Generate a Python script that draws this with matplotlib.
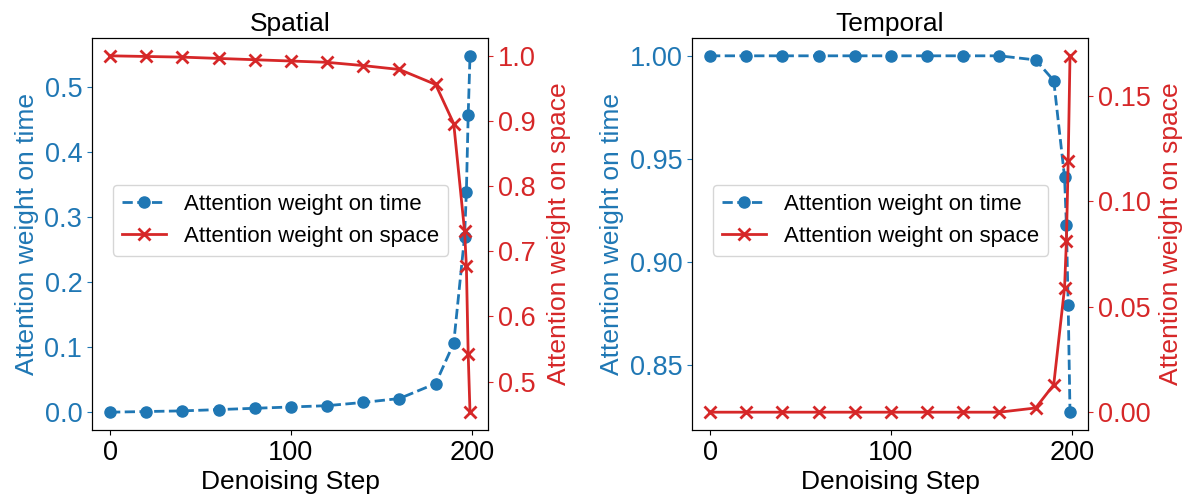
import matplotlib
matplotlib.use("Agg")
import matplotlib.pyplot as plt

plt.rcParams['font.family'] = ['Liberation Sans', 'DejaVu Sans']

# Denoising steps at which the attention weights were recorded
steps = [0, 20, 40, 60, 80, 100, 120, 140, 160, 180, 190, 196, 197, 198, 199]

# Spatial block
spatial_time = [0.000, 0.001, 0.002, 0.004, 0.006, 0.008, 0.010, 0.015, 0.021,
                0.044, 0.106, 0.270, 0.339, 0.457, 0.548]
spatial_space = [1.000, 0.999, 0.998, 0.996, 0.994, 0.992, 0.990, 0.985, 0.979,
                 0.956, 0.896, 0.731, 0.677, 0.542, 0.453]

# Temporal block
temporal_time = [1.000, 1.000, 1.000, 1.000, 1.000, 1.000, 1.000, 1.000, 1.000,
                 0.998, 0.988, 0.941, 0.918, 0.879, 0.827]
temporal_space = [0.000, 0.000, 0.000, 0.000, 0.000, 0.000, 0.000, 0.000, 0.000,
                  0.002, 0.013, 0.059, 0.081, 0.119, 0.169]

titles = ["Spatial", "Temporal"]
x_ticks = [0, 100, 200]
right_ticks = [[0.5, 0.6, 0.7, 0.8, 0.9, 1.0], [0.00, 0.05, 0.10, 0.15]]
left_ticks = [[0.0, 0.1, 0.2, 0.3, 0.4, 0.5], [0.85, 0.90, 0.95, 1.00]]
left_fmt = ["{:.1f}", "{:.2f}"]
right_fmt = ["{:.1f}", "{:.2f}"]

BLUE = "#1f77b4"
RED = "#d62728"
FS = 19
TICK_FS = 19.5
LEG_FS = 16

fig = plt.figure(figsize=(11.84, 4.95), dpi=100)
lefts = [92 / 1184, 692 / 1184]
W = 396 / 1184
B = 65 / 495
H = 392 / 495
right_pads = [8, 6]

series = [(spatial_time, spatial_space), (temporal_time, temporal_space)]

for i in range(2):
    ax = fig.add_axes([lefts[i], B, W, H])
    ax2 = ax.twinx()
    t_vals, s_vals = series[i]
    l1, = ax.plot(steps, t_vals, linestyle="--", marker="o", color=BLUE,
                  linewidth=2, markersize=8, label="Attention weight on time")
    l2, = ax2.plot(steps, s_vals, linestyle="-", marker="x", color=RED,
                   linewidth=2, markersize=8, markeredgewidth=2,
                   label="Attention weight on space")
    ax.set_title(titles[i], fontsize=FS, pad=5)
    ax.set_xlabel("Denoising Step", fontsize=FS, labelpad=3)
    ax.set_ylabel("Attention weight on time", color=BLUE, fontsize=FS, labelpad=4)
    ax2.set_ylabel("Attention weight on space", color=RED, fontsize=FS,
                   labelpad=right_pads[i])
    ax.set_xticks(x_ticks)
    ax.set_yticks(left_ticks[i])
    ax.set_yticklabels([left_fmt[i].format(v) for v in left_ticks[i]])
    ax2.set_yticks(right_ticks[i])
    ax2.set_yticklabels([right_fmt[i].format(v) for v in right_ticks[i]])
    ax.tick_params(axis="x", labelsize=TICK_FS)
    ax.tick_params(axis="y", labelsize=TICK_FS, colors=BLUE)
    ax2.tick_params(axis="y", labelsize=TICK_FS, colors=RED)
    for sp in list(ax.spines.values()) + list(ax2.spines.values()):
        sp.set_color("black")
    ax.legend([l1, l2], [l1.get_label(), l2.get_label()], fontsize=LEG_FS,
              loc="upper left", bbox_to_anchor=(0.053, 0.625),
              borderaxespad=0, handlelength=2.0)

fig.savefig("out.png", dpi=100)
